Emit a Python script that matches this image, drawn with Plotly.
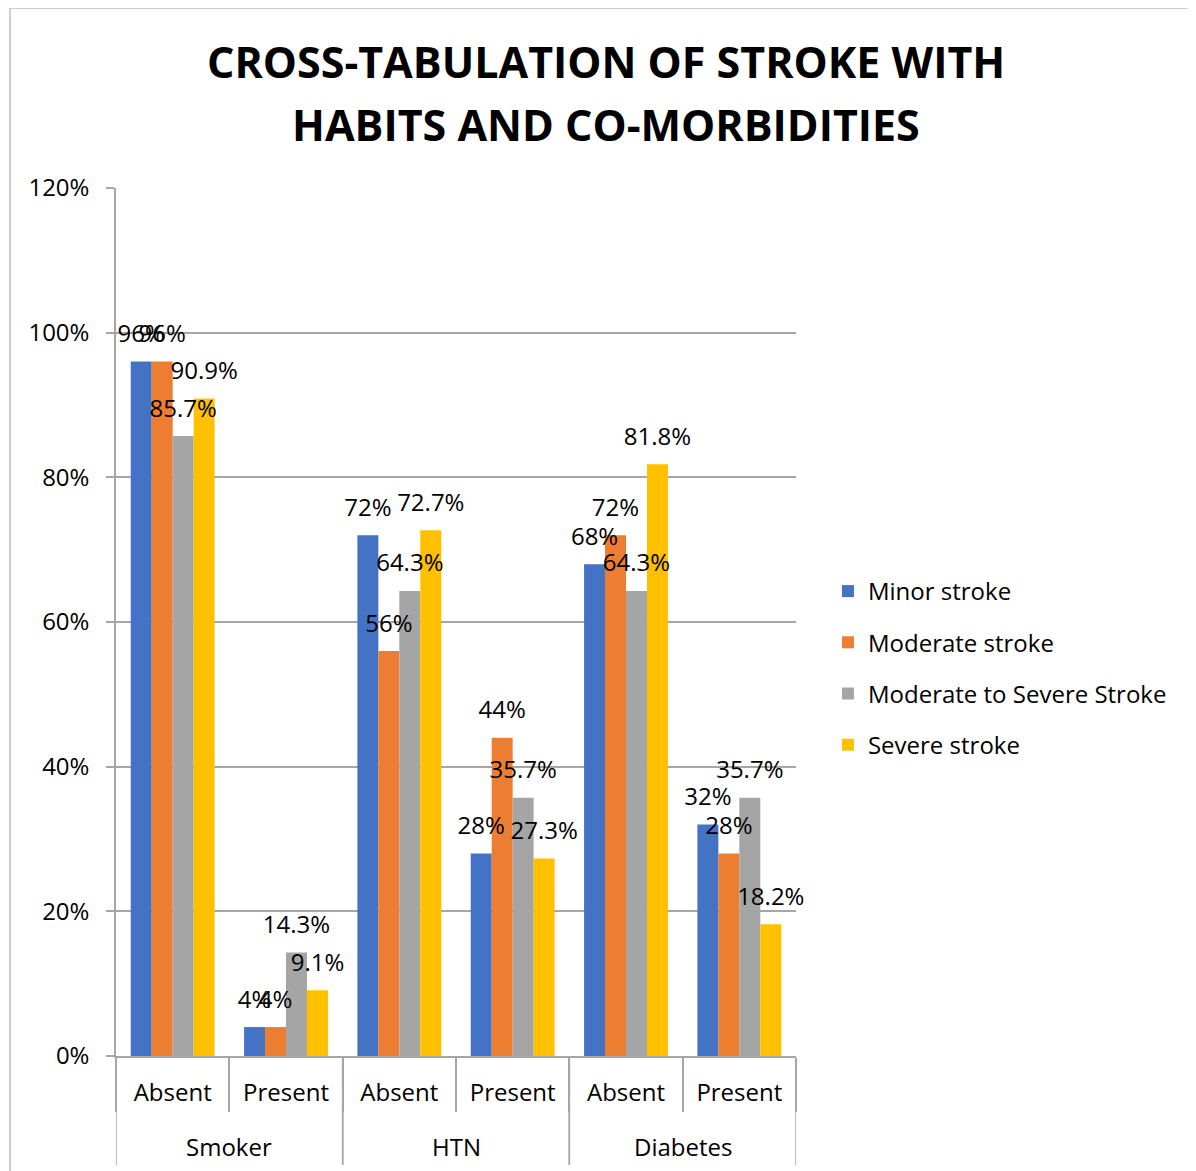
import plotly.graph_objects as go

groups = ["Smoker", "Smoker", "HTN", "HTN", "Diabetes", "Diabetes"]
status = ["Absent", "Present", "Absent", "Present", "Absent", "Present"]

series_names = ["Minor stroke", "Moderate stroke", "Moderate to Severe Stroke", "Severe stroke"]
minor = [96, 4, 72, 28, 68, 32]
moderate = [96, 4, 56, 44, 72, 28]
mod_severe = [85.7, 14.3, 64.3, 35.7, 64.3, 35.7]
severe = [90.9, 9.1, 72.7, 27.3, 81.8, 18.2]
colors = ["#4472C4", "#ED7D31", "#A5A5A5", "#FFC000"]

y_ticks = [0, 20, 40, 60, 80, 100, 120]
title_lines = ["CROSS-TABULATION OF STROKE WITH", "HABITS AND CO-MORBIDITIES"]

FONT = "Open Sans"
GRID = "#A6A6A6"
LABEL_PAD = 1.3  # gap (in axis units) between bar top and its value label

keys = [f"{g}|{s}" for g, s in zip(groups, status)]

fig = go.Figure()
all_vals = [minor, moderate, mod_severe, severe]
for i, (name, vals) in enumerate(zip(series_names, all_vals)):
    fig.add_trace(go.Bar(
        x=keys, y=vals, name=name, offsetgroup=str(i),
        marker=dict(color=colors[i], line=dict(width=0)),
        legendgroup=name,
    ))
# value labels drawn on top of all bars
for i, (name, vals) in enumerate(zip(series_names, all_vals)):
    fig.add_trace(go.Bar(
        x=keys, y=[LABEL_PAD] * len(vals), base=vals, offsetgroup=str(i),
        text=vals, texttemplate="%{text}%", textposition="outside",
        textfont=dict(family=FONT, size=24, color="#000000"),
        marker=dict(color="rgba(0,0,0,0)", line=dict(width=0)),
        constraintext="none", cliponaxis=False, showlegend=False,
        hoverinfo="skip",
    ))

fig.update_layout(
    width=1196, height=1171,
    paper_bgcolor="white", plot_bgcolor="white",
    margin=dict(l=108, r=408, t=180, b=123),
    barmode="group", bargap=0.26, bargroupgap=0,
    font=dict(family=FONT, size=24, color="#000000"),
    legend=dict(x=1.047, xanchor="left", y=0.447, yanchor="middle",
                font=dict(family=FONT, size=24, color="#000000"),
                tracegroupgap=17, itemwidth=30),
    showlegend=True,
    uniformtext=dict(mode="show", minsize=8),
)

fig.update_yaxes(
    range=[0, 120], tickvals=y_ticks, ticktext=[f"{v}%" for v in y_ticks],
    showgrid=True, gridcolor=GRID, gridwidth=1.5,
    showline=True, linecolor=GRID, linewidth=1.5,
    ticks="outside", ticklen=8, tickcolor=GRID, tickwidth=1.5,
    ticklabelstandoff=12,
    tickfont=dict(family=FONT, size=24, color="#000000"),
    zeroline=False,
)
fig.update_xaxes(
    type="category", tickvals=keys, ticktext=status,
    showline=True, linecolor=GRID, linewidth=1.5,
    ticks="outside", tickson="boundaries", ticklen=54, tickcolor=GRID, tickwidth=1.5,
    ticklabelstandoff=14,
    tickfont=dict(family=FONT, size=24, color="#000000"),
    range=[-0.5, len(keys) - 0.5],
)

# group labels and group dividers
unique_groups = list(dict.fromkeys(groups))
for g in unique_groups:
    idx = [i for i, gg in enumerate(groups) if gg == g]
    center = (idx[0] + idx[-1]) / 2
    fig.add_annotation(x=center, xref="x", y=-0.1048, yref="paper", text=g,
                       showarrow=False, yanchor="middle",
                       font=dict(family=FONT, size=24, color="#000000"))
    for b in (idx[0] - 0.5, idx[-1] + 0.5):
        fig.add_shape(type="line", xref="x", yref="paper", x0=b, x1=b, y0=0, y1=-0.1256,
                      line=dict(color=GRID, width=1.5))

# title (two centred lines)
for line, yy in zip(title_lines, [1.1452, 1.0726]):
    fig.add_annotation(x=0.72, xref="paper", y=yy, yref="paper", text=f"<b>{line}</b>",
                       showarrow=False, xanchor="center", yanchor="middle",
                       font=dict(family=FONT, size=43, color="#000000"))

fig.add_shape(type="rect", xref="paper", yref="paper",
              x0=-0.1559, x1=1.7, y0=-0.3, y1=1.2074,
              line=dict(color="#BFBFBF", width=1.5), fillcolor="rgba(0,0,0,0)", layer="below")

fig.write_html("out.html")
